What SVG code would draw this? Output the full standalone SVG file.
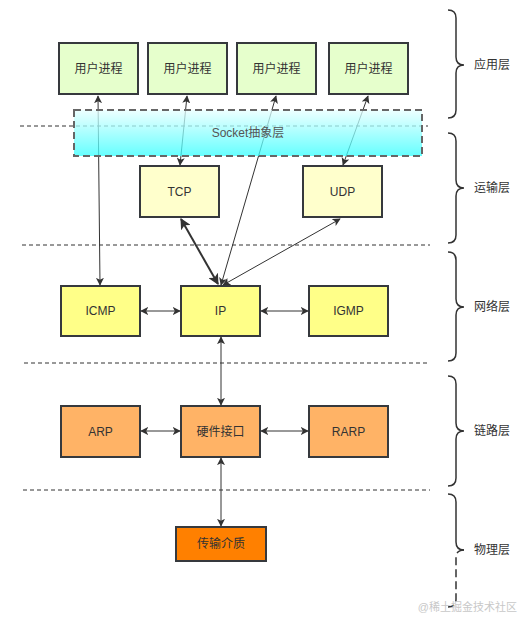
<svg xmlns="http://www.w3.org/2000/svg" width="521" height="617" viewBox="0 0 521 617">
<style>
.box{stroke:#36393d;stroke-width:2}
.t{font-family:"Liberation Sans","Noto Sans CJK SC",sans-serif;font-size:12px;fill:#333;text-anchor:middle;dominant-baseline:central}
.lbl{font-family:"Liberation Sans","Noto Sans CJK SC",sans-serif;font-size:12px;fill:#333;dominant-baseline:central}
.sep{stroke:#333;stroke-width:1;stroke-dasharray:4 3;fill:none}
.brace{stroke:#333;stroke-width:1.5;fill:none}
.c{stroke:#333;stroke-width:1;fill:none;marker-start:url(#a);marker-end:url(#a)}
.ct{stroke:#333;stroke-width:2;fill:none;marker-start:url(#ab);marker-end:url(#ab)}
</style>
<defs>
<marker id="a" viewBox="0 0 10 10" refX="9" refY="5" markerWidth="8" markerHeight="8" markerUnits="userSpaceOnUse" orient="auto-start-reverse"><path d="M0,0 L10,5 L0,10 L2.5,5 Z" fill="#333"/></marker>
<marker id="ab" viewBox="0 0 10 10" refX="9" refY="5" markerWidth="11" markerHeight="11" markerUnits="userSpaceOnUse" orient="auto-start-reverse"><path d="M0,0 L10,5 L0,10 L2.5,5 Z" fill="#333"/></marker>
<linearGradient id="g" x1="0" y1="0" x2="0" y2="1"><stop offset="0" stop-color="#e8ffff"/><stop offset="1" stop-color="#33ffff"/></linearGradient>
</defs>
<rect width="521" height="617" fill="#fff"/>
<g id="separators">
<line class="sep" x1="20" y1="126" x2="428" y2="126"/>
<line class="sep" x1="22" y1="245" x2="430" y2="245"/>
<line class="sep" x1="24" y1="363" x2="430" y2="363"/>
<line class="sep" x1="23" y1="490" x2="430" y2="490"/>
</g>
<g id="connectors">
<line class="c" x1="98" y1="96" x2="100" y2="285"/>
<line class="c" x1="187" y1="96" x2="180" y2="165"/>
<line class="c" x1="276" y1="96" x2="221" y2="285"/>
<line class="c" x1="368" y1="96" x2="343" y2="165"/>
<line class="ct" x1="181" y1="219" x2="218" y2="284"/>
<line class="c" x1="340" y1="219" x2="223" y2="285"/>
<line class="c" x1="141" y1="311" x2="180" y2="311"/>
<line class="c" x1="261" y1="311" x2="308" y2="311"/>
<line class="c" x1="221" y1="337" x2="221" y2="405"/>
<line class="c" x1="141" y1="431" x2="180" y2="431"/>
<line class="c" x1="261" y1="431" x2="308" y2="431"/>
<line class="c" x1="221" y1="458" x2="221" y2="526"/>
</g>
<g id="socket">
<rect x="74" y="110" width="348" height="46" fill="url(#g)" fill-opacity="0.75" stroke="#666" stroke-width="2" stroke-dasharray="7 4"/>
<text class="t" x="248" y="133" style="fill:#555">Socket抽象层</text>
</g>
<g id="proc1"><rect class="box" x="59" y="43" width="79" height="51" fill="#e6ffcc"/><text class="t" x="98.5" y="69">用户进程</text></g>
<g id="proc2"><rect class="box" x="148" y="43" width="79" height="51" fill="#e6ffcc"/><text class="t" x="187.5" y="69">用户进程</text></g>
<g id="proc3"><rect class="box" x="237" y="43" width="79" height="51" fill="#e6ffcc"/><text class="t" x="276.5" y="69">用户进程</text></g>
<g id="proc4"><rect class="box" x="329" y="43" width="79" height="51" fill="#e6ffcc"/><text class="t" x="368.5" y="69">用户进程</text></g>
<g id="tcp"><rect class="box" x="140" y="166" width="79" height="51" fill="#ffffcc"/><text class="t" x="179.5" y="191.5">TCP</text></g>
<g id="udp"><rect class="box" x="303" y="166" width="79" height="51" fill="#ffffcc"/><text class="t" x="342.5" y="191.5">UDP</text></g>
<g id="icmp"><rect class="box" x="61" y="286" width="79" height="50" fill="#ffff88"/><text class="t" x="100.5" y="311">ICMP</text></g>
<g id="ip"><rect class="box" x="181" y="286" width="79" height="50" fill="#ffff88"/><text class="t" x="220.5" y="311">IP</text></g>
<g id="igmp"><rect class="box" x="309" y="286" width="79" height="50" fill="#ffff88"/><text class="t" x="348.5" y="311">IGMP</text></g>
<g id="arp"><rect class="box" x="61" y="406" width="79" height="51" fill="#ffb366"/><text class="t" x="100.5" y="431.5">ARP</text></g>
<g id="hw"><rect class="box" x="181" y="406" width="79" height="51" fill="#ffb366"/><text class="t" x="220.5" y="431.5">硬件接口</text></g>
<g id="rarp"><rect class="box" x="309" y="406" width="79" height="51" fill="#ffb366"/><text class="t" x="348.5" y="431.5">RARP</text></g>
<g id="medium"><rect class="box" x="176" y="527" width="90" height="34" fill="#ff8000"/><text class="t" x="221" y="544">传输介质</text></g>
<g id="braces">
<path class="brace" d="M448,10 Q456,10 456,18 L456,57 Q456,65 464,65 Q456,65 456,73 L456,110 Q456,118 448,118"/>
<path class="brace" d="M448,133 Q456,133 456,141 L456,180 Q456,188 464,188 Q456,188 456,196 L456,235 Q456,243 448,243"/>
<path class="brace" d="M448,252 Q456,252 456,260 L456,299 Q456,307 464,307 Q456,307 456,315 L456,353 Q456,361 448,361"/>
<path class="brace" d="M448,376 Q456,376 456,384 L456,423 Q456,431 464,431 Q456,431 456,439 L456,478 Q456,486 448,486"/>
<path class="brace" d="M448,494 Q456,494 456,502 L456,542 Q456,550 464,550"/>
<path class="brace" stroke-dasharray="8 4" d="M464,550 Q456,550 456,558 L456,599 Q456,607 448,607"/>
</g>
<g id="labels">
<text class="lbl" x="474" y="65">应用层</text>
<text class="lbl" x="474" y="188">运输层</text>
<text class="lbl" x="474" y="307">网络层</text>
<text class="lbl" x="474" y="431">链路层</text>
<text class="lbl" x="474" y="550">物理层</text>
</g>
<text x="517" y="611" font-family="Liberation Sans,Noto Sans CJK SC,sans-serif" font-size="11" fill="#c8c8c8" text-anchor="end">@稀土掘金技术社区</text>
</svg>
